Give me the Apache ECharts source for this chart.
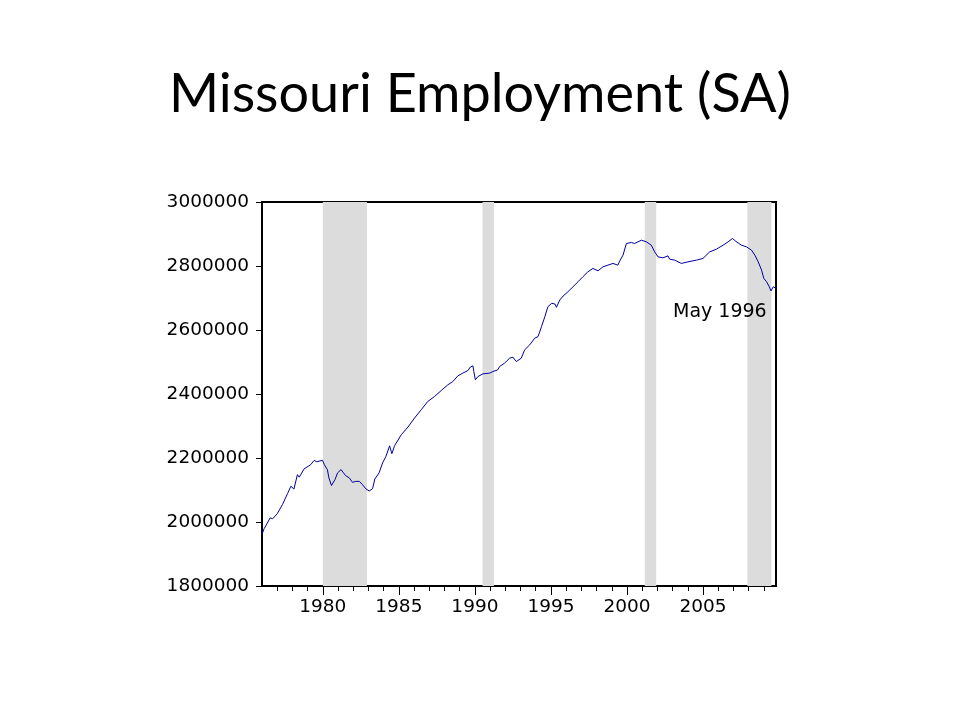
<!DOCTYPE html>
<html>
<head>
<meta charset="utf-8">
<script src="https://cdn.jsdelivr.net/npm/echarts@6/dist/echarts.min.js"></script>
<style>html,body{margin:0;padding:0;background:#fff}#c{width:960px;height:720px}</style>
</head>
<body>
<div id="c"></div>
<script>
// Data (decimal year, employment)
var years = [1976.0,1976.14,1976.54,1976.7,1977.0,1977.35,1977.68,1977.9,1978.1,1978.33,1978.45,1978.77,1979.2,1979.43,1979.6,1979.75,1979.98,1980.1,1980.3,1980.4,1980.57,1980.8,1980.97,1981.2,1981.36,1981.5,1981.74,1981.95,1982.17,1982.4,1982.6,1982.83,1983.05,1983.27,1983.42,1983.7,1983.93,1984.15,1984.39,1984.54,1984.72,1985.16,1985.6,1986.03,1986.47,1986.9,1987.35,1987.79,1988.22,1988.55,1988.88,1989.2,1989.54,1989.7,1989.87,1989.93,1990.03,1990.2,1990.53,1990.97,1991.18,1991.5,1991.62,1991.95,1992.28,1992.5,1992.72,1993.05,1993.27,1993.6,1993.93,1994.15,1994.38,1994.6,1994.8,1995.05,1995.27,1995.36,1995.58,1995.8,1996.12,1996.45,1996.78,1997.1,1997.43,1997.76,1998.1,1998.42,1998.75,1999.08,1999.4,1999.52,1999.74,1999.96,2000.29,2000.5,2000.95,2001.28,2001.6,2001.82,2002.04,2002.15,2002.37,2002.7,2002.8,2003.14,2003.58,2004.01,2004.57,2005.0,2005.44,2005.88,2006.32,2006.65,2006.94,2007.15,2007.53,2007.86,2008.19,2008.41,2008.63,2008.85,2009.0,2009.18,2009.36,2009.47,2009.62,2009.8];
var employment = [1962000,1979000,2013000,2010000,2025700,2054700,2089000,2111700,2103000,2148000,2140000,2166000,2179000,2192700,2188000,2190000,2192700,2179000,2163700,2137800,2114000,2132600,2153500,2163700,2153500,2145000,2137800,2124000,2127000,2127000,2117000,2103600,2097000,2104000,2134500,2153500,2184700,2205000,2238000,2213600,2238600,2272900,2296800,2324900,2350800,2376700,2392300,2411000,2428700,2439000,2456700,2465200,2473300,2483900,2488000,2470100,2444300,2454600,2463000,2465200,2470100,2475500,2485700,2496300,2511900,2515000,2501300,2511900,2537800,2553300,2574300,2579300,2610400,2641600,2672800,2683300,2681100,2670900,2693600,2706100,2719500,2735100,2750700,2766300,2781900,2792400,2785000,2797400,2802700,2808000,2802700,2815200,2833900,2870300,2873500,2870300,2880700,2875400,2865100,2844200,2828600,2833900,2825500,2831700,2821500,2818300,2808000,2813000,2818300,2823600,2844200,2852500,2865100,2875400,2886000,2877500,2865100,2859800,2849500,2833900,2813000,2787100,2761300,2750700,2735100,2722000,2735100,2730000];
var recessionStart = [1980.0, 1990.5, 2001.17, 2007.92];
var recessionEnd = [1982.9, 1991.25, 2001.92, 2009.5];
var yTicks = [1800000, 2000000, 2200000, 2400000, 2600000, 2800000, 3000000];
var majorYears = [1980, 1985, 1990, 1995, 2000, 2005];
var allYears = [1977,1978,1979,1980,1981,1982,1983,1984,1985,1986,1987,1988,1989,1990,1991,1992,1993,1994,1995,1996,1997,1998,1999,2000,2001,2002,2003,2004,2005,2006,2007,2008,2009];
var titleText = 'Missouri Employment (SA)';
var noteText = 'May 1996';

var seriesData = years.map(function (y, i) { return [y, employment[i]]; });
var areas = recessionStart.map(function (s, i) { return [{ xAxis: s }, { xAxis: recessionEnd[i] }]; });

var chart = echarts.init(document.getElementById('c'), null, { renderer: 'canvas' });
var axisFont = { fontFamily: 'DejaVu Sans', fontSize: 18.5, color: '#000' };
chart.setOption({
  backgroundColor: '#fff',
  animation: false,
  title: {
    text: titleText, left: 'center', top: 63,
    textStyle: { fontFamily: 'Lato', fontWeight: 'normal', fontSize: 54, color: '#000' }
  },
  grid: { left: 262, right: 184, top: 202, bottom: 134, show: true, borderColor: '#000', borderWidth: 2, backgroundColor: 'transparent' },
  xAxis: [{
    type: 'value', min: 1976, max: 2009.8,
    splitLine: { show: false },
    axisLine: { show: true, lineStyle: { color: '#000', width: 2 } },
    axisTick: { show: true, customValues: majorYears, length: 9, lineStyle: { color: '#000', width: 1 } },
    axisLabel: Object.assign({ customValues: majorYears, margin: 12, formatter: function (v) { return String(v); } }, axisFont)
  }, {
    type: 'value', min: 1976, max: 2009.8, position: 'bottom',
    splitLine: { show: false },
    axisLine: { show: false },
    axisTick: { show: true, customValues: allYears, length: 5, lineStyle: { color: '#000', width: 1 } },
    axisLabel: { show: false }
  }],
  yAxis: {
    type: 'value', min: 1800000, max: 3000000, interval: 200000,
    splitLine: { show: false },
    axisLine: { show: true, lineStyle: { color: '#000', width: 2 } },
    axisTick: { show: true, length: 6, lineStyle: { color: '#000', width: 1 } },
    axisLabel: Object.assign({ margin: 13, formatter: function (v) { return String(v); } }, axisFont)
  },
  graphic: [{
    type: 'text', left: 673, top: 303, z: 100, zlevel: 0,
    style: { text: noteText, fontFamily: 'DejaVu Sans', fontSize: 19, fill: '#000' }
  }],
  series: [{
    type: 'line', data: seriesData, showSymbol: false, symbol: 'none',
    lineStyle: { color: '#0000a0', width: 1 },
    markArea: { silent: true, itemStyle: { color: '#dcdcdc' }, data: areas }
  }]
});
</script>
</body>
</html>
